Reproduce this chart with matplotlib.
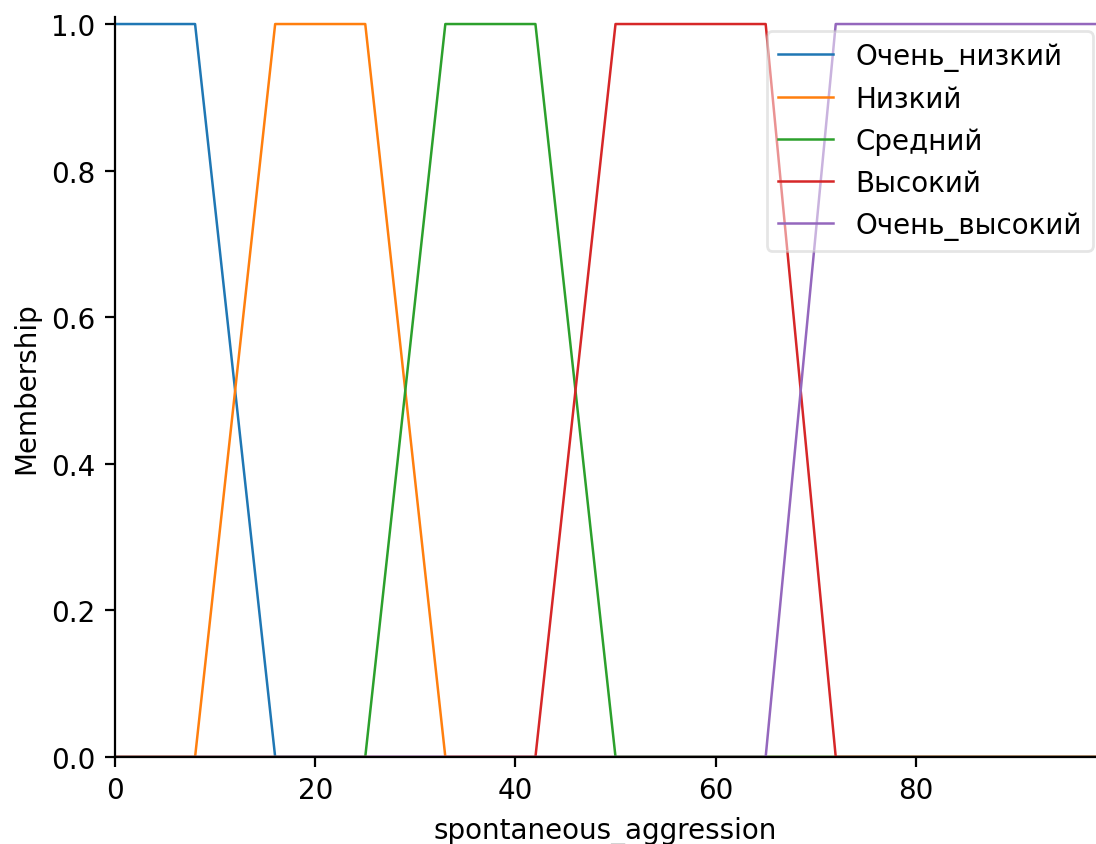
import matplotlib.pyplot as plt

# термы переменной spontaneous_aggression (трапеции)
term_names = ["Очень_низкий", "Низкий", "Средний", "Высокий", "Очень_высокий"]

very_low_x = [0, 8, 16, 98]
very_low_y = [1, 1, 0, 0]
low_x = [0, 8, 16, 25, 33, 98]
low_y = [0, 0, 1, 1, 0, 0]
medium_x = [0, 25, 33, 42, 50, 98]
medium_y = [0, 0, 1, 1, 0, 0]
high_x = [0, 42, 50, 65, 72, 98]
high_y = [0, 0, 1, 1, 0, 0]
very_high_x = [0, 65, 72, 98]
very_high_y = [0, 0, 1, 1]

xs = [very_low_x, low_x, medium_x, high_x, very_high_x]
ys = [very_low_y, low_y, medium_y, high_y, very_high_y]

W, H = 1096, 845
fig = plt.figure(figsize=(W / 200, H / 200), dpi=200)
ax = fig.add_axes([115 / W, 1 - 758 / H, (1096 - 115) / W, (758 - 17.7) / H])

for name, x, y in zip(term_names, xs, ys):
    ax.plot(x, y, label=name, lw=0.9)

ax.set_ylim([0, 1.01])
ax.set_xlim([0, 98])
ax.set_ylabel("Membership")
ax.set_xlabel("spontaneous_aggression")
ax.spines["top"].set_visible(False)
ax.spines["right"].set_visible(False)
ax.get_xaxis().tick_bottom()
ax.get_yaxis().tick_left()

ax.legend(framealpha=0.5, loc="upper right", borderaxespad=0,
          bbox_to_anchor=(1093 / W, 1 - 32 / H), bbox_transform=fig.transFigure)

fig.savefig("out.png", dpi=200)
